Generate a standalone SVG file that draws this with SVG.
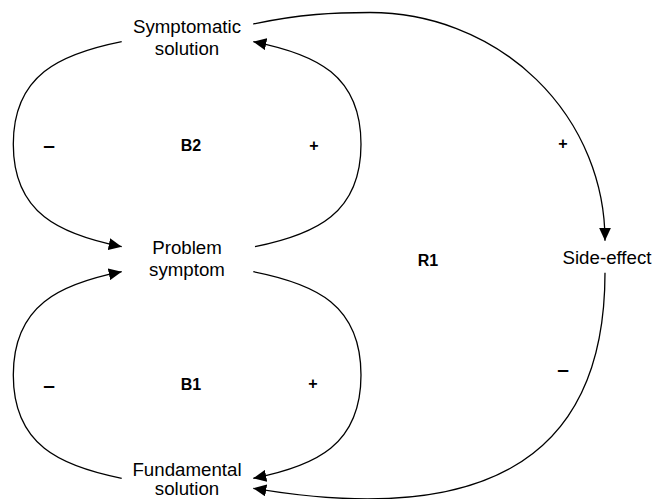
<svg xmlns="http://www.w3.org/2000/svg" width="654" height="499" viewBox="0 0 654 499">
<style>
.n{font-family:"Liberation Sans",Arial,sans-serif;font-size:18.7px;fill:#000;text-anchor:middle}
.l{font-family:"Liberation Sans",Arial,sans-serif;font-size:16px;font-weight:bold;fill:#000;text-anchor:middle}
.d{font-family:"Liberation Sans",Arial,sans-serif;font-size:21px;font-weight:bold;fill:#000;text-anchor:middle}
.c{fill:none;stroke:#000;stroke-width:1.3}
</style>
<defs>
<marker id="ah" markerUnits="userSpaceOnUse" markerWidth="13" markerHeight="12" viewBox="0 0 13 12" refX="13" refY="6" orient="auto">
<path d="M0,0 L13,6 L0,12 z" fill="#000"/>
</marker>
</defs>
<rect width="654" height="499" fill="#fff"/>
<g id="connectors">
<path class="c" d="M121.7,41.7 C60,54 13.3,75 13.3,144.2 C13.3,213.4 60,234.4 121.7,246.7" marker-end="url(#ah)"/>
<path class="c" d="M255,246.7 C316,234.4 361,213.4 361,144.2 C361,75 316,54 253.3,41.7" marker-end="url(#ah)"/>
<path class="c" d="M121.7,478.3 C60,466 13.3,445 13.3,375 C13.3,305 60,284 121.7,271.7" marker-end="url(#ah)"/>
<path class="c" d="M253.3,271.7 C316,284 361,305 361,375 C361,445 316,466 253.3,478.3" marker-end="url(#ah)"/>
<path class="c" d="M253.3,24 C300,14 335,12.5 370,12.5 A235,228 0 0 1 605,240.7" marker-end="url(#ah)"/>
<path class="c" d="M605,272.7 C605,470 470,525 253.3,488.3" marker-end="url(#ah)"/>
</g>
<g id="symptomatic-solution"><text class="n" x="187" y="33">Symptomatic</text><text class="n" x="187" y="55">solution</text></g>
<g id="problem-symptom"><text class="n" x="187" y="254">Problem</text><text class="n" x="187" y="276">symptom</text></g>
<g id="fundamental-solution"><text class="n" x="187" y="476">Fundamental</text><text class="n" x="187" y="495">solution</text></g>
<g id="side-effect"><text class="n" x="607" y="264">Side-effect</text></g>
<g id="labels">
<text class="l" x="191" y="151">B2</text>
<text class="l" x="191" y="390">B1</text>
<text class="l" x="428" y="266">R1</text>
<text class="d" x="49" y="152">–</text>
<text class="l" x="314" y="151">+</text>
<text class="d" x="49" y="392">–</text>
<text class="l" x="313" y="389">+</text>
<text class="l" x="563" y="149">+</text>
<text class="d" x="563" y="376">–</text>
</g>
</svg>
